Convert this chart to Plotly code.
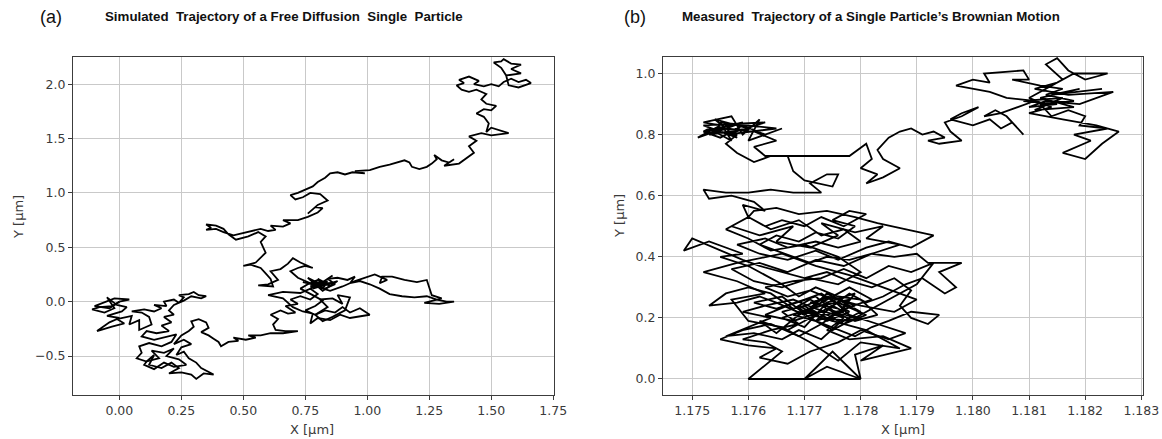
import plotly.graph_objects as go

# ---------------- Panel (a): simulated trajectory (µm) ----------------
xa = [
    0.00, -0.03, -0.08, -0.11, -0.06, -0.02, -0.05, -0.01, 0.03, 0.01,
    -0.05, 0.00, -0.04, -0.09, -0.03, 0.02, -0.01, 0.05, 0.04, 0.08,
    0.08, 0.13, 0.12, 0.09, 0.05, 0.10, 0.14, 0.17, 0.14, 0.19,
    0.18, 0.22, 0.24, 0.26, 0.24, 0.28, 0.30, 0.32, 0.35, 0.33,
    0.29, 0.26, 0.22, 0.20, 0.22, 0.18, 0.21, 0.17, 0.20, 0.15,
    0.11, 0.09, 0.14, 0.19, 0.23, 0.21, 0.17, 0.12, 0.08, 0.09,
    0.07, 0.11, 0.14, 0.12, 0.17, 0.21, 0.24, 0.20, 0.25, 0.29,
    0.31, 0.34, 0.38, 0.33, 0.31, 0.28, 0.26, 0.23, 0.25, 0.29,
    0.26, 0.22, 0.25, 0.28, 0.30, 0.29, 0.32, 0.35, 0.36, 0.33,
    0.36, 0.38, 0.40, 0.41, 0.44, 0.48, 0.46, 0.51, 0.55, 0.52,
    0.57, 0.61, 0.66, 0.72, 0.67, 0.63, 0.62, 0.64, 0.61, 0.65,
    0.68, 0.71, 0.67, 0.72, 0.69, 0.73, 0.77, 0.80, 0.77, 0.81,
    0.85, 0.78, 0.86, 0.79, 0.84, 0.77, 0.83, 0.80, 0.85,
    0.80, 0.76, 0.73, 0.78, 0.82, 0.79, 0.75, 0.79, 0.83,
    0.87, 0.90, 0.93, 0.97, 1.01, 0.96, 0.93, 0.89, 0.85, 0.80,
    0.77, 0.78, 0.74, 0.70, 0.66, 0.60, 0.66, 0.73, 0.76, 0.80,
    0.83, 0.87, 0.84, 0.88, 0.92, 0.95, 0.93, 0.97, 1.01, 1.05,
    1.09, 1.14, 1.19, 1.24, 1.28, 1.32, 1.35, 1.29, 1.23, 1.30,
    1.26, 1.25, 1.24, 1.20, 1.15, 1.10, 1.06, 1.05, 1.08, 1.03,
    0.99, 0.95, 0.90, 0.85, 0.81, 0.76, 0.72, 0.69, 0.72, 0.75,
    0.78, 0.73, 0.70, 0.68, 0.65, 0.61, 0.64, 0.60, 0.56, 0.62,
    0.61, 0.59, 0.57, 0.53, 0.50, 0.55, 0.57, 0.59, 0.58, 0.57,
    0.59, 0.56, 0.52, 0.47, 0.44, 0.42, 0.39, 0.35, 0.37, 0.35,
    0.39, 0.42, 0.46, 0.50, 0.54, 0.57, 0.60, 0.63, 0.61, 0.66,
    0.69, 0.66, 0.72, 0.76, 0.80, 0.82, 0.79, 0.76, 0.80, 0.84,
    0.81, 0.77, 0.74, 0.71, 0.69, 0.72, 0.75, 0.78, 0.80, 0.83,
    0.85, 0.88, 0.91, 0.94, 0.99, 0.95, 1.01, 1.05, 1.09, 1.12,
    1.15, 1.17, 1.18, 1.21, 1.24, 1.26, 1.28, 1.27, 1.30, 1.33,
    1.35, 1.31, 1.37, 1.40, 1.43, 1.41, 1.44, 1.41, 1.46, 1.50,
    1.57, 1.50, 1.48, 1.49, 1.47, 1.44, 1.47, 1.50, 1.52, 1.48,
    1.46, 1.48, 1.44, 1.41, 1.38, 1.36, 1.39, 1.37, 1.41, 1.45,
    1.43, 1.47, 1.50, 1.53, 1.55, 1.58, 1.61, 1.64, 1.66, 1.61,
    1.57, 1.56, 1.54, 1.51, 1.54, 1.55, 1.58, 1.62, 1.58, 1.62,
    1.56,
]
ya = [
    0.00, -0.04, -0.05, -0.07, -0.10, -0.06, 0.04, -0.03, -0.05, -0.09,
    -0.13, -0.15, -0.19, -0.27, -0.23, -0.20, -0.16, -0.13, -0.21, -0.17,
    -0.26, -0.21, -0.14, -0.10, -0.09, -0.07, -0.09, -0.06, -0.03, -0.04,
    0.00, 0.02, -0.01, 0.04, 0.06, 0.07, 0.09, 0.06, 0.05, 0.03,
    0.05, 0.01, -0.03, -0.08, -0.12, -0.14, -0.19, -0.22, -0.27, -0.29,
    -0.27, -0.32, -0.35, -0.32, -0.30, -0.37, -0.41, -0.38, -0.41, -0.47,
    -0.52, -0.55, -0.49, -0.58, -0.61, -0.56, -0.61, -0.66, -0.65, -0.67,
    -0.71, -0.66, -0.67, -0.61, -0.56, -0.52, -0.46, -0.49, -0.42, -0.39,
    -0.35, -0.39, -0.31, -0.27, -0.23, -0.18, -0.16, -0.19, -0.24, -0.28,
    -0.31, -0.34, -0.37, -0.41, -0.37, -0.36, -0.33, -0.35, -0.33, -0.31,
    -0.31, -0.29, -0.29, -0.27, -0.27, -0.26, -0.21, -0.16, -0.12, -0.08,
    -0.11, -0.10, -0.04, -0.02, 0.02, 0.05, 0.02, 0.07, 0.12, 0.17,
    0.15, 0.18, 0.17, 0.15, 0.19, 0.14, 0.16, 0.21, 0.15,
    0.20, 0.16, 0.12, 0.06, 0.01, -0.04, -0.08, -0.12, -0.08,
    -0.10, -0.05, -0.10, -0.06, -0.12, -0.14, -0.15, -0.12, -0.17, -0.15,
    -0.20, -0.11, -0.09, -0.05, 0.03, 0.06, 0.09, 0.08, 0.11, 0.15,
    0.12, 0.16, 0.21, 0.22, 0.20, 0.23, 0.17, 0.19, 0.16, 0.12,
    0.07, 0.05, 0.04, 0.05, 0.02, 0.00, 0.00, -0.02, -0.01, 0.03,
    0.06, 0.13, 0.20, 0.18, 0.20, 0.23, 0.23, 0.17, 0.20, 0.25,
    0.22, 0.19, 0.14, 0.10, 0.13, 0.18, 0.22, 0.28, 0.31, 0.33,
    0.31, 0.36, 0.40, 0.35, 0.30, 0.28, 0.20, 0.16, 0.15, 0.14,
    0.21, 0.26, 0.31, 0.34, 0.33, 0.36, 0.41, 0.45, 0.50, 0.55,
    0.60, 0.64, 0.60, 0.57, 0.62, 0.67, 0.70, 0.71, 0.68, 0.66,
    0.67, 0.64, 0.61, 0.63, 0.65, 0.67, 0.65, 0.66, 0.70, 0.69,
    0.72, 0.75, 0.75, 0.78, 0.82, 0.86, 0.87, 0.81, 0.89, 0.93,
    0.99, 1.00, 0.96, 0.94, 0.98, 1.00, 1.03, 1.06, 1.10, 1.14,
    1.18, 1.19, 1.17, 1.19, 1.18, 1.20, 1.21, 1.24, 1.26, 1.28,
    1.30, 1.28, 1.24, 1.22, 1.24, 1.27, 1.31, 1.35, 1.30, 1.28,
    1.31, 1.25, 1.27, 1.32, 1.37, 1.43, 1.48, 1.52, 1.55, 1.53,
    1.55, 1.60, 1.56, 1.64, 1.70, 1.73, 1.77, 1.76, 1.80, 1.82,
    1.86, 1.91, 1.95, 1.93, 1.95, 1.99, 2.01, 2.04, 2.07, 2.03,
    2.00, 1.98, 2.00, 1.98, 2.02, 2.05, 2.02, 2.04, 2.01, 1.97,
    1.99, 2.08, 2.15, 2.20, 2.21, 2.23, 2.19, 2.18, 2.14, 2.10,
    2.08,
]
# extra excursions of the same walk (each starts and ends on a vertex above)
xa_loop1 = [0.00, 0.04, -0.02, -0.07, -0.10, -0.04, 0.00]
ya_loop1 = [0.00, 0.02, 0.03, -0.01, -0.04, -0.06, 0.00]
xa_loop2 = [0.11, 0.16, 0.13, 0.18, 0.22, 0.19, 0.24, 0.27, 0.22, 0.18, 0.14, 0.10, 0.11]
ya_loop2 = [-0.55, -0.52, -0.45, -0.47, -0.43, -0.50, -0.53, -0.58, -0.60, -0.56, -0.62, -0.58, -0.55]
xa_loop3 = [0.80, 0.74, 0.83, 0.76, 0.82, 0.88, 0.78, 0.86, 0.80]
ya_loop3 = [0.15, 0.18, 0.14, 0.22, 0.10, 0.19, 0.12, 0.24, 0.15]
xa_loop4 = [0.79, 0.84, 0.81, 0.86, 0.90, 0.88, 0.93, 0.91, 0.86, 0.82, 0.79]
ya_loop4 = [-0.12, -0.05, 0.02, 0.03, -0.02, 0.06, 0.04, -0.08, -0.14, -0.18, -0.12]

# ---------------- Panel (b): measured trajectory (µm), in path order ----------------
xb_core = [
    1.1776, 1.1771, 1.1775, 1.1779, 1.1774, 1.1770, 1.1773, 1.1777, 1.1772, 1.1768,
    1.1773, 1.1778, 1.1775, 1.1771, 1.1766, 1.1770, 1.1774, 1.1779, 1.1776, 1.1772,
    1.1767, 1.1763, 1.1768, 1.1773, 1.1777, 1.1781, 1.1776, 1.1772, 1.1769, 1.1774,
    1.1778, 1.1773, 1.1770, 1.1765, 1.1761, 1.1766, 1.1771, 1.1775, 1.1779, 1.1774,
    1.1770, 1.1767, 1.1762, 1.1765, 1.1769, 1.1774, 1.1778, 1.1782, 1.1777, 1.1773,
    1.1769, 1.1764, 1.1759, 1.1755, 1.1760, 1.1765, 1.1762, 1.1767, 1.1771, 1.1776,
    1.1780, 1.1785, 1.1788, 1.1783, 1.1778, 1.1775, 1.1771, 1.1767, 1.1763, 1.1768,
    1.1773, 1.1777, 1.1781, 1.1785, 1.1789, 1.1793, 1.1790, 1.1786, 1.1782, 1.1778,
    1.1773,
]
yb_core = [
    0.23, 0.25, 0.27, 0.24, 0.21, 0.22, 0.26, 0.22, 0.19, 0.21,
    0.24, 0.26, 0.19, 0.23, 0.20, 0.17, 0.25, 0.28, 0.21, 0.27,
    0.24, 0.21, 0.19, 0.22, 0.18, 0.21, 0.25, 0.21, 0.24, 0.19,
    0.22, 0.28, 0.26, 0.23, 0.25, 0.27, 0.20, 0.16, 0.20, 0.23,
    0.19, 0.16, 0.19, 0.15, 0.21, 0.26, 0.30, 0.26, 0.23, 0.18,
    0.14, 0.18, 0.16, 0.13, 0.11, 0.10, 0.07, 0.05, 0.09, 0.12,
    0.16, 0.13, 0.15, 0.18, 0.21, 0.26, 0.29, 0.27, 0.30, 0.32,
    0.33, 0.36, 0.33, 0.37, 0.35, 0.38, 0.31, 0.27, 0.23, 0.19,
    0.20,
]
xb_low = [
    1.1773, 1.1770, 1.1766, 1.1769, 1.1764, 1.1759, 1.1763, 1.1766, 1.1760, 1.1780,
    1.1775, 1.1770, 1.1774, 1.1780, 1.1779, 1.1784, 1.1780, 1.1789, 1.1784, 1.1778,
    1.1774, 1.1777, 1.1772, 1.1768, 1.1763, 1.1759, 1.1764, 1.1760, 1.1756, 1.1761,
    1.1766, 1.1769, 1.1773, 1.1776, 1.1780, 1.1777, 1.1774, 1.1770, 1.1765, 1.1762,
    1.1758, 1.1753, 1.1756, 1.1760, 1.1764, 1.1768, 1.1771, 1.1775, 1.1779, 1.1783,
    1.1780, 1.1776, 1.1772, 1.1769, 1.1766, 1.1763, 1.1760, 1.1755, 1.1759, 1.1753,
    1.17485, 1.1750, 1.1755, 1.1759, 1.1762, 1.1766, 1.1770, 1.1774, 1.1778, 1.1782,
    1.1786, 1.1789, 1.1787, 1.1789, 1.1792, 1.1794, 1.1789, 1.1785, 1.1782, 1.1779,
    1.1775, 1.1772, 1.1775, 1.1778, 1.1781, 1.1784, 1.1788, 1.1791, 1.1795, 1.1797,
    1.1794, 1.1798, 1.1792, 1.1790, 1.1786, 1.1782, 1.1778, 1.1774, 1.1771, 1.1768,
    1.1765, 1.1762, 1.1765, 1.1769, 1.1772, 1.1776, 1.1779, 1.1775, 1.1778, 1.1781,
    1.1777, 1.1773, 1.1770, 1.1766, 1.1763, 1.1760,
]
yb_low = [
    0.20, 0.24, 0.22, 0.18, 0.16, 0.13, 0.12, 0.09, 0.00, 0.00,
    0.09, 0.00, 0.04, 0.00, 0.08, 0.11, 0.06, 0.10, 0.14, 0.13,
    0.16, 0.20, 0.23, 0.26, 0.24, 0.22, 0.20, 0.17, 0.14, 0.15,
    0.13, 0.16, 0.13, 0.18, 0.22, 0.25, 0.28, 0.21, 0.25, 0.27,
    0.25, 0.24, 0.28, 0.30, 0.28, 0.23, 0.26, 0.22, 0.19, 0.21,
    0.26, 0.27, 0.30, 0.27, 0.31, 0.34, 0.37, 0.40, 0.41, 0.45,
    0.42, 0.46, 0.42, 0.39, 0.37, 0.35, 0.33, 0.35, 0.32, 0.30,
    0.33, 0.29, 0.24, 0.20, 0.18, 0.21, 0.22, 0.19, 0.17, 0.14,
    0.17, 0.19, 0.24, 0.28, 0.25, 0.27, 0.31, 0.33, 0.28, 0.30,
    0.35, 0.38, 0.38, 0.41, 0.40, 0.41, 0.39, 0.40, 0.38, 0.40,
    0.42, 0.44, 0.47, 0.45, 0.48, 0.46, 0.50, 0.52, 0.55, 0.54,
    0.50, 0.53, 0.50, 0.52, 0.50, 0.53,
]
xb_mid = [
    1.1764, 1.1769, 1.1773, 1.1777, 1.1780, 1.1776, 1.1772, 1.1767, 1.1763, 1.1758,
    1.1762, 1.1767, 1.1772, 1.1776, 1.1781, 1.1785, 1.1789, 1.1793, 1.1788, 1.1783,
    1.1779, 1.1774, 1.1769, 1.1765, 1.1761, 1.1760,
    1.1757, 1.1762, 1.1768, 1.1765, 1.1771, 1.1776, 1.1773, 1.1779, 1.1784, 1.1781,
    1.1787, 1.1782, 1.1777, 1.1772, 1.1767, 1.1762, 1.1757, 1.1761, 1.1766, 1.1771,
    1.1776, 1.1780, 1.1776, 1.1770, 1.1764, 1.1760, 1.1756, 1.1760,
]
yb_mid = [
    0.49, 0.52, 0.47, 0.49, 0.45, 0.43, 0.45, 0.43, 0.46, 0.44,
    0.41, 0.39, 0.42, 0.39, 0.43, 0.45, 0.43, 0.47, 0.49, 0.51,
    0.53, 0.55, 0.54, 0.56, 0.55, 0.53,
    0.50, 0.47, 0.50, 0.45, 0.43, 0.47, 0.51, 0.48, 0.50, 0.46,
    0.44, 0.41, 0.37, 0.39, 0.35, 0.38, 0.36, 0.32, 0.30, 0.33,
    0.31, 0.35, 0.40, 0.44, 0.42, 0.46, 0.49, 0.53,
]
xb_climb = [
    1.1759, 1.1763, 1.1761, 1.1757,
    1.1753, 1.1752, 1.1756, 1.1760, 1.1764, 1.1768, 1.1773, 1.1771, 1.1774, 1.1776,
    1.1775, 1.1770, 1.1768, 1.1767, 1.1764, 1.1761, 1.1758, 1.1756, 1.1758, 1.1754,
    1.1751, 1.1755, 1.1752, 1.1757, 1.1759, 1.1762, 1.1760, 1.1766, 1.1763, 1.1759,
    1.1755, 1.1752,
]
yb_climb = [
    0.57, 0.55, 0.58, 0.60,
    0.59, 0.62, 0.61, 0.61, 0.62, 0.61, 0.61, 0.64, 0.67, 0.67,
    0.63, 0.65, 0.68, 0.73, 0.73, 0.71, 0.74, 0.77, 0.80, 0.81,
    0.79, 0.83, 0.84, 0.86, 0.80, 0.85, 0.78, 0.82, 0.80, 0.83,
    0.79, 0.81,
]
xb_tl = [
    1.1759, 1.1753, 1.1760, 1.1754, 1.1758, 1.1752, 1.1763, 1.1756, 1.1765, 1.1755,
    1.1757, 1.1753, 1.1752,
]
yb_tl = [
    0.84, 0.80, 0.82, 0.85, 0.79, 0.83, 0.84, 0.80, 0.82, 0.84,
    0.78, 0.82, 0.81,
]
xb_east = [
    1.1756, 1.1761, 1.1765, 1.1761, 1.1763, 1.1767, 1.1773, 1.1778,
    1.1781, 1.1782, 1.1780, 1.1783, 1.1781, 1.1784, 1.1787, 1.1784, 1.1783, 1.1785,
    1.1787, 1.1789, 1.1791, 1.1793, 1.1795, 1.1792, 1.1794, 1.1798, 1.1796, 1.1795,
    1.1798, 1.1801, 1.1798, 1.1796, 1.1800, 1.1803, 1.1805, 1.1807, 1.1809, 1.1806,
    1.1804, 1.1802, 1.1805, 1.1808, 1.1811, 1.1806, 1.1803, 1.1797, 1.1800, 1.1803,
    1.1802, 1.1809, 1.1810, 1.1807, 1.1812, 1.1816, 1.1813, 1.1818, 1.1812, 1.1814,
    1.1817, 1.1820, 1.1819, 1.1824, 1.1818, 1.1821, 1.1816, 1.1820, 1.1823, 1.1826,
    1.1822, 1.1816, 1.1810, 1.1814, 1.1810, 1.1816, 1.1813, 1.1815, 1.1817, 1.1820,
    1.1824, 1.1818, 1.1815, 1.1811, 1.1817, 1.1825, 1.1819,
]
yb_east = [
    0.82, 0.81, 0.78, 0.76, 0.73, 0.73, 0.73, 0.73,
    0.77, 0.72, 0.69, 0.67, 0.64, 0.66, 0.69, 0.72, 0.75, 0.79,
    0.81, 0.82, 0.80, 0.81, 0.79, 0.78, 0.77, 0.78, 0.81, 0.84,
    0.86, 0.89, 0.87, 0.85, 0.83, 0.85, 0.82, 0.84, 0.80, 0.86,
    0.88, 0.86, 0.87, 0.89, 0.91, 0.92, 0.94, 0.96, 0.98, 0.97,
    1.00, 1.01, 0.98, 0.98, 0.96, 0.95, 0.93, 0.91, 0.90, 0.86,
    0.88, 0.86, 0.83, 0.82, 0.80, 0.78, 0.74, 0.72, 0.77, 0.81,
    0.83, 0.85, 0.87, 0.89, 0.92, 0.98, 1.03, 1.05, 1.01, 0.98,
    1.00, 1.00, 0.97, 0.95, 0.93, 0.94, 0.90,
]
xb_tr = [1.1813, 1.1810, 1.1815, 1.1809, 1.1816, 1.1811, 1.1818, 1.1812, 1.1819, 1.1814, 1.1823]
yb_tr = [0.91, 0.89, 0.90, 0.91, 0.92, 0.88, 0.89, 0.92, 0.95, 0.93, 0.95]
# extra excursion through the lower mass (starts and ends on a vertex)
xb_loop = [
    1.1773, 1.1781, 1.1787, 1.1780, 1.1776, 1.1771, 1.1766, 1.1760, 1.1757, 1.1763,
    1.1758, 1.1752, 1.1758, 1.1766, 1.1772, 1.1778, 1.1784, 1.1790, 1.1786, 1.1780,
    1.1774, 1.1769, 1.1773,
]
yb_loop = [
    0.20, 0.16, 0.10, 0.12, 0.06, 0.12, 0.17, 0.19, 0.26, 0.28,
    0.32, 0.35, 0.38, 0.41, 0.37, 0.34, 0.30, 0.26, 0.22, 0.24,
    0.27, 0.23, 0.20,
]

xb = xb_core + xb_low + xb_mid + xb_climb + xb_tl + xb_east + xb_tr
yb = yb_core + yb_low + yb_mid + yb_climb + yb_tl + yb_east + yb_tr

# ---------------- Axis ticks ----------------
xa_ticks = [0.00, 0.25, 0.50, 0.75, 1.00, 1.25, 1.50, 1.75]
xa_ticktext = ["0.00", "0.25", "0.50", "0.75", "1.00", "1.25", "1.50", "1.75"]
ya_ticks = [-0.5, 0.0, 0.5, 1.0, 1.5, 2.0]
ya_ticktext = ["\u22120.5", "0.0", "0.5", "1.0", "1.5", "2.0"]
xb_ticks = [1.175, 1.176, 1.177, 1.178, 1.179, 1.180, 1.181, 1.182, 1.183]
xb_ticktext = ["1.175", "1.176", "1.177", "1.178", "1.179", "1.180", "1.181", "1.182", "1.183"]
yb_ticks = [0.0, 0.2, 0.4, 0.6, 0.8, 1.0]
yb_ticktext = ["0.0", "0.2", "0.4", "0.6", "0.8", "1.0"]

W, H = 1162, 439
LINE = dict(color="#000000", width=1.8)

fig = go.Figure()
for sx, sy in [(xa, ya), (xa_loop1, ya_loop1), (xa_loop2, ya_loop2),
               (xa_loop3, ya_loop3), (xa_loop4, ya_loop4)]:
    fig.add_trace(go.Scatter(x=sx, y=sy, mode="lines", line=LINE, xaxis="x", yaxis="y",
                             showlegend=False, hoverinfo="skip"))
for sx, sy in [(xb, yb), (xb_loop, yb_loop)]:
    fig.add_trace(go.Scatter(x=sx, y=sy, mode="lines", line=LINE, xaxis="x2", yaxis="y2",
                             showlegend=False, hoverinfo="skip"))

tick_font = dict(family="DejaVu Sans", size=12.5, color="#3a3a3a")
common = dict(showline=True, mirror=True, linecolor="#3c3c3c", linewidth=1.3,
              showgrid=True, gridcolor="#c9c9c9", gridwidth=1, zeroline=False,
              ticks="outside", ticklen=4, tickwidth=1, tickcolor="#3c3c3c",
              tickfont=tick_font, tickmode="array", automargin=False)

ydom = [1 - 395 / H, 1 - 57 / H]
fig.update_layout(
    width=W, height=H,
    margin=dict(l=0, r=0, t=0, b=0, pad=0),
    paper_bgcolor="white", plot_bgcolor="white",
    xaxis=dict(domain=[73 / W, 554 / W], range=[-0.187, 1.753], anchor="y",
               tickvals=xa_ticks, ticktext=xa_ticktext, **common),
    yaxis=dict(domain=ydom, range=[-0.858, 2.25], anchor="x",
               tickvals=ya_ticks, ticktext=ya_ticktext, **common),
    xaxis2=dict(domain=[663 / W, 1143 / W], range=[1.17448, 1.18303], anchor="y2",
                tickvals=xb_ticks, ticktext=xb_ticktext, **common),
    yaxis2=dict(domain=ydom, range=[-0.0524, 1.054], anchor="x2",
                tickvals=yb_ticks, ticktext=yb_ticktext, **common),
)

label_font = dict(family="DejaVu Sans", size=13, color="#3a3a3a")
title_font = dict(family="Liberation Sans", size=13.3, color="#111111")
panel_font = dict(family="Liberation Sans", size=18, color="#111111")

def ann(x, y, text, font, angle=0, xanchor="center"):
    fig.add_annotation(x=x / W, y=1 - y / H, xref="paper", yref="paper", text=text,
                       showarrow=False, font=font, textangle=angle,
                       xanchor=xanchor, yanchor="middle")

ann(51, 17, "(a)", panel_font)
ann(284, 17, "<b>Simulated  Trajectory of a Free Diffusion  Single  Particle</b>", title_font)
ann(635, 17, "(b)", panel_font)
ann(871, 17, "<b>Measured  Trajectory of a Single Particle\u2019s Brownian Motion</b>", title_font)
ann(312, 429, "X [\u00b5m]", label_font)
ann(903, 429, "X [\u00b5m]", label_font)
ann(18, 217, "Y [\u00b5m]", label_font, angle=-90)
ann(620, 216, "Y [\u00b5m]", label_font, angle=-90)

fig.write_html(
    "out.html",
    config={"displayModeBar": False, "responsive": False},
    post_script="document.body.style.margin='0px';document.body.style.padding='0px';"
                "document.documentElement.style.overflow='hidden';",
)
